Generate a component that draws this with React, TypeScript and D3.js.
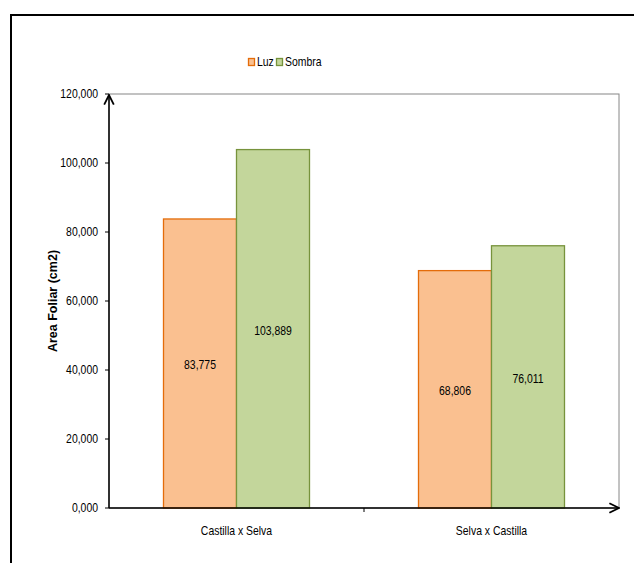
import React from "react";
import * as d3 from "d3";

const categories = ["Castilla x Selva", "Selva x Castilla"];
const seriesNames = ["Luz", "Sombra"];
const luzValues = [83.775, 68.806];
const sombraValues = [103.889, 76.011];
const valueLabels = [["83,775", "68,806"], ["103,889", "76,011"]];
const yTicks = [0, 20, 40, 60, 80, 100, 120];
const yTickLabels = ["0,000", "20,000", "40,000", "60,000", "80,000", "100,000", "120,000"];

const fills = ["#FAC090", "#C3D69B"];
const strokes = ["#E46C0A", "#77933C"];
const FONT = "'Liberation Sans', Arial, sans-serif";
const SX = 0.87;

function T({ x, y, anchor = "start", size = 12, children }: any) {
  return (
    <text transform={`translate(${x},${y}) scale(${SX},1)`} textAnchor={anchor} fontFamily={FONT} fontSize={size} fill="#000">
      {children}
    </text>
  );
}

export default function App() {
  const W = 634, H = 563;
  const left = 109, right = 619, top = 94, bottom = 508;
  const x0 = d3.scaleBand<string>().domain(categories).range([left, right]).paddingInner(0).paddingOuter(0);
  const y = d3.scaleLinear().domain([0, 120]).range([bottom, top]);
  const groupW = 146;
  const x1 = d3.scaleBand<string>().domain(seriesNames).range([0, groupW]).padding(0);
  const series = [luzValues, sombraValues];
  const legendX = [248, 276];

  return (
    <svg width={W} height={H} style={{ position: "absolute", left: 0, top: 0, background: "#fff" }}>
      <defs>
        <marker id="arr" viewBox="0 0 10 10" refX="9" refY="5" markerWidth="8" markerHeight="8" orient="auto">
          <path d="M1,1 L9,5 L1,9" fill="none" stroke="#000" strokeWidth="1.5" />
        </marker>
      </defs>
      {/* outer frame */}
      <path d={`M11,${H + 5} L11,15 L${W + 5},15`} fill="none" stroke="#000" strokeWidth={2} />
      {/* plot area border */}
      <rect x={left} y={top} width={right - left} height={bottom - top} fill="none" stroke="#868686" strokeWidth={1} />
      {/* legend */}
      {seriesNames.map((s, i) => {
        const lx = legendX[i];
        return (
          <g key={s}>
            <rect x={lx + 0.5} y={58.5} width={6} height={7} fill={fills[i]} stroke={strokes[i]} strokeWidth={1.3} />
            <T x={lx + 9} y={66}>{s}</T>
          </g>
        );
      })}
      {/* bars */}
      {categories.map((c, ci) => {
        const cx = (x0(c) as number) + x0.bandwidth() / 2;
        return (
          <g key={c}>
            {seriesNames.map((s, si) => {
              const v = series[si][ci];
              const bx = cx - groupW / 2 + (x1(s) as number);
              const by = y(v);
              return (
                <g key={s}>
                  <rect x={bx} y={by} width={x1.bandwidth()} height={bottom - by} fill={fills[si]} stroke={strokes[si]} strokeWidth={1.3} />
                  <T x={bx + x1.bandwidth() / 2} y={(by + bottom) / 2 + 6} anchor="middle">
                    {valueLabels[si][ci]}
                  </T>
                </g>
              );
            })}
            <T x={cx} y={535} anchor="middle">{c}</T>
          </g>
        );
      })}
      {/* y axis */}
      <line x1={left} y1={bottom} x2={left} y2={top + 1} stroke="#000" strokeWidth={1.5} markerEnd="url(#arr)" />
      {yTicks.map((t, i) => (
        <g key={t}>
          <line x1={left - 4} x2={left} y1={y(t)} y2={y(t)} stroke="#000" strokeWidth={1} />
          <T x={left - 11} y={y(t) + 4} anchor="end">{yTickLabels[i]}</T>
        </g>
      ))}
      {/* x axis */}
      <line x1={left} y1={bottom} x2={right} y2={bottom} stroke="#000" strokeWidth={1.5} markerEnd="url(#arr)" />
      <line x1={x0(categories[1]) as number} x2={x0(categories[1]) as number} y1={bottom} y2={bottom + 4} stroke="#000" strokeWidth={1} />
      {/* y title */}
      <text transform={`translate(57,${(top + bottom) / 2}) rotate(-90)`} textAnchor="middle" fontFamily={FONT} fontWeight="bold" fontSize={12.5} fill="#000">
        Area Foliar (cm2)
      </text>
    </svg>
  );
}
